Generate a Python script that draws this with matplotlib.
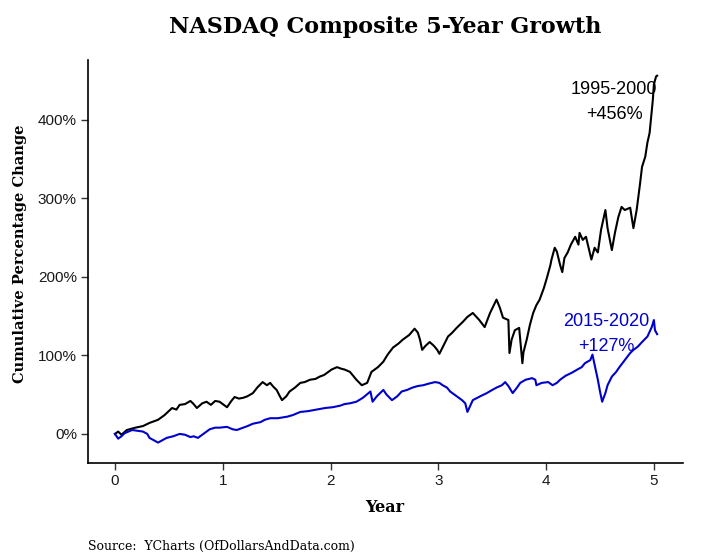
import matplotlib
matplotlib.use("Agg")
import matplotlib.pyplot as plt
from matplotlib.ticker import FuncFormatter

# NASDAQ 1995-2000 (years since start, cumulative % change)
black_years = [0.00, 0.03, 0.06, 0.11, 0.19, 0.26, 0.32, 0.40, 0.46, 0.53,
               0.57, 0.60, 0.65, 0.70, 0.73, 0.76, 0.81, 0.85, 0.89, 0.93,
               0.97, 1.01, 1.04, 1.08, 1.11, 1.15, 1.19, 1.23, 1.28, 1.32,
               1.37, 1.41, 1.44, 1.47, 1.50, 1.53, 1.55, 1.59, 1.62, 1.67,
               1.72, 1.76, 1.81, 1.86, 1.90, 1.94, 1.97, 2.01, 2.06, 2.10,
               2.13, 2.18, 2.24, 2.29, 2.34, 2.38, 2.44, 2.49, 2.53, 2.58,
               2.63, 2.67, 2.73, 2.78, 2.81, 2.83, 2.85, 2.88, 2.92, 2.96,
               2.99, 3.01, 3.05, 3.09, 3.13, 3.17, 3.23, 3.27, 3.32, 3.38,
               3.43, 3.48, 3.54, 3.57, 3.60, 3.65, 3.66, 3.68, 3.71, 3.75,
               3.78, 3.79, 3.82, 3.85, 3.88, 3.91, 3.94, 3.98, 4.01, 4.04,
               4.05, 4.08, 4.10, 4.13, 4.15, 4.17, 4.20, 4.23, 4.27, 4.30,
               4.31, 4.34, 4.37, 4.41, 4.42, 4.45, 4.48, 4.51, 4.55, 4.57,
               4.61, 4.64, 4.67, 4.70, 4.73, 4.78, 4.81, 4.84, 4.87, 4.89,
               4.92, 4.94, 4.96, 4.99, 5.00, 5.02, 5.03]
black_pct = [0, 3, -1, 5, 8, 10, 14, 18, 24, 33,
             31, 37, 38, 42, 38, 33, 39, 41, 37, 42,
             41, 37, 34, 42, 47, 45, 46, 48, 52, 59,
             66, 62, 65, 60, 56, 48, 43, 48, 54, 59,
             65, 66, 69, 70, 73, 75, 78, 82, 85, 83,
             82, 79, 69, 62, 65, 79, 85, 92, 101, 110,
             115, 120, 126, 134, 129, 120, 107, 112, 117, 112,
             107, 102, 113, 124, 129, 135, 143, 149, 154, 145,
             136, 154, 171, 161, 148, 145, 103, 120, 132, 135,
             90, 104, 120, 139, 154, 164, 171, 186, 200, 215,
             222, 237, 232, 215, 206, 224, 231, 241, 251, 241,
             256, 247, 251, 228, 222, 237, 231, 260, 285, 262,
             234, 257, 276, 289, 285, 288, 262, 285, 317, 340,
             353, 371, 383, 425, 445, 455, 456]

# NASDAQ 2015-2020
blue_years = [0.00, 0.03, 0.06, 0.09, 0.16, 0.21, 0.26, 0.30, 0.32, 0.36,
              0.40, 0.44, 0.48, 0.54, 0.60, 0.65, 0.70, 0.73, 0.77, 0.82,
              0.88, 0.93, 0.97, 1.04, 1.09, 1.13, 1.19, 1.23, 1.28, 1.35,
              1.39, 1.44, 1.51, 1.60, 1.65, 1.72, 1.79, 1.87, 1.95, 2.02,
              2.09, 2.13, 2.18, 2.24, 2.30, 2.37, 2.39, 2.43, 2.49, 2.52,
              2.57, 2.62, 2.66, 2.71, 2.76, 2.81, 2.86, 2.91, 2.97, 3.01,
              3.04, 3.08, 3.11, 3.15, 3.18, 3.22, 3.25, 3.27, 3.30, 3.32,
              3.39, 3.45, 3.50, 3.54, 3.59, 3.62, 3.65, 3.69, 3.73, 3.76,
              3.81, 3.87, 3.90, 3.91, 3.96, 4.02, 4.06, 4.10, 4.13, 4.18,
              4.24, 4.29, 4.33, 4.36, 4.41, 4.43, 4.45, 4.48, 4.50, 4.52,
              4.55, 4.57, 4.61, 4.65, 4.68, 4.73, 4.78, 4.81, 4.85, 4.89,
              4.94, 4.96, 4.98, 5.00, 5.01, 5.03]
blue_pct = [0, -6, -3, 1, 5, 4, 3, 0, -5, -8,
            -11, -8, -5, -3, 0, -1, -4, -3, -5, 0,
            6, 8, 8, 9, 6, 5, 8, 10, 13, 15,
            18, 20, 20, 22, 24, 28, 29, 31, 33, 34,
            36, 38, 39, 41, 46, 54, 41, 48, 56, 50,
            43, 48, 54, 56, 59, 61, 62, 64, 66, 65,
            62, 59, 54, 50, 47, 43, 39, 28, 37, 43,
            48, 52, 56, 59, 62, 66, 61, 52, 59, 65,
            69, 71, 69, 62, 65, 66, 62, 65, 69, 74,
            78, 82, 85, 90, 94, 101, 88, 69, 54, 41,
            52, 62, 73, 79, 85, 94, 103, 107, 111, 117,
            124, 130, 136, 145, 132, 127]

BLUE = "#0000CD"

fig = plt.figure(figsize=(7.2, 5.6), dpi=100)
ax = fig.add_axes([88 / 720, 97 / 560, 595 / 720, 403 / 560])

ax.plot(black_years, black_pct, color="black", lw=1.5)
ax.plot(blue_years, blue_pct, color=BLUE, lw=1.5)

ax.set_xlim(-0.25, 5.27)
ax.set_ylim(-37, 476)
ax.set_xticks([0, 1, 2, 3, 4, 5])
ax.set_yticks([0, 100, 200, 300, 400])
ax.yaxis.set_major_formatter(FuncFormatter(lambda v, _: f"{v:.0f}%"))

for side in ["top", "right"]:
    ax.spines[side].set_visible(False)
for side in ["left", "bottom"]:
    ax.spines[side].set_linewidth(1.2)
ax.tick_params(axis="both", length=5, width=1, color="#333333",
               labelsize=11, labelcolor="#1a1a1a", pad=3)
for lab in ax.get_xticklabels() + ax.get_yticklabels():
    lab.set_fontfamily("Liberation Sans")

# annotations
ax.text(4.63, 438, "1995-2000", ha="center", va="center",
        fontsize=13, family="Liberation Sans", color="black")
ax.text(4.63, 406, "+456%", ha="center", va="center",
        fontsize=13, family="Liberation Sans", color="black")
ax.text(4.56, 143, "2015-2020", ha="center", va="center",
        fontsize=13, family="Liberation Sans", color=BLUE)
ax.text(4.56, 111, "+127%", ha="center", va="center",
        fontsize=13, family="Liberation Sans", color=BLUE)

fig.text(385 / 720, 1 - 27 / 560, "NASDAQ Composite 5-Year Growth",
         ha="center", va="center", fontsize=16, fontweight="bold",
         family="DejaVu Serif")
fig.text(20 / 720, 1 - 254 / 560, "Cumulative Percentage Change",
         ha="center", va="center", rotation=90, fontsize=10.5,
         fontweight="bold", family="DejaVu Serif")
fig.text(385 / 720, 1 - 507 / 560, "Year", ha="center", va="center",
         fontsize=11.5, fontweight="bold", family="DejaVu Serif")
fig.text(88 / 720, 1 - 546 / 560, "Source:  YCharts (OfDollarsAndData.com)",
         ha="left", va="center", fontsize=9, family="DejaVu Serif")

fig.savefig("out.png", dpi=100)
